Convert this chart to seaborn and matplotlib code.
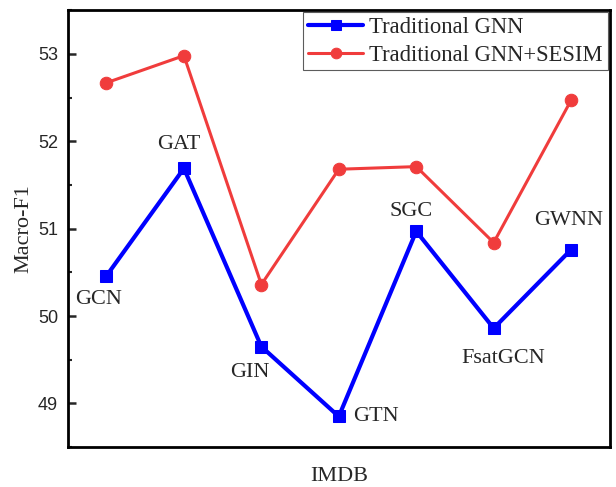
import numpy as np
import pandas as pd
import matplotlib
matplotlib.use("Agg")
import matplotlib.pyplot as plt
import seaborn as sns
from matplotlib.ticker import MultipleLocator

# Datos (IMDB, Macro-F1)
modelos = ["GCN", "GAT", "GIN", "GTN", "SGC", "FsatGCN", "GWNN"]
gnn_tradicional = [50.46, 51.69, 49.65, 48.85, 50.97, 49.86, 50.76]
gnn_sesim = [52.67, 52.98, 50.36, 51.68, 51.71, 50.84, 52.47]

posiciones = np.arange(1, len(modelos) + 1)

df = pd.DataFrame({
    "pos": np.concatenate([posiciones, posiciones]),
    "valor": gnn_tradicional + gnn_sesim,
    "serie": ["Traditional GNN"] * len(modelos) + ["Traditional GNN+SESIM"] * len(modelos),
})

sns.set_style("white")
plt.rcParams["font.family"] = ["Liberation Serif", "DejaVu Serif"]

fig = plt.figure(figsize=(6.16, 4.87), dpi=100)
ax = fig.add_axes([0.110, 0.082, 0.880, 0.897])

sns.lineplot(data=df[df["serie"] == "Traditional GNN"], x="pos", y="valor",
             color="#0000FF", marker="s", markersize=8, linewidth=3,
             markeredgecolor="#0000FF", label="Traditional GNN", ax=ax)
sns.lineplot(data=df[df["serie"] == "Traditional GNN+SESIM"], x="pos", y="valor",
             color="#F03C3C", marker="o", markersize=9, linewidth=2.2,
             markeredgecolor="#F03C3C", label="Traditional GNN+SESIM", ax=ax)

# Etiquetas de cada modelo (desplazamientos en puntos)
desplazamientos = {
    "GCN": (-6, -17, "center"),
    "GAT": (-4, 17, "center"),
    "GIN": (-8, -19, "center"),
    "GTN": (10, 0, "left"),
    "SGC": (-4, 14, "center"),
    "FsatGCN": (7, -22, "center"),
    "GWNN": (-2, 21, "center"),
}
for i, nombre in enumerate(modelos):
    dx, dy, ha = desplazamientos[nombre]
    ax.annotate(nombre, (posiciones[i], gnn_tradicional[i]), xytext=(dx, dy),
                textcoords="offset points", ha=ha, va="center", fontsize=16)

ax.set_xlim(0.5, 7.5)
ax.set_ylim(48.5, 53.5)
ax.set_xticks([])
ax.yaxis.set_major_locator(MultipleLocator(1))
ax.yaxis.set_minor_locator(MultipleLocator(0.5))
ax.tick_params(axis="y", which="major", direction="in", length=6, width=1.8,
               left=True, pad=7)
ax.tick_params(axis="y", which="minor", direction="in", length=3, width=1.5, left=True)
for etiqueta in ax.get_yticklabels():
    etiqueta.set_family("Liberation Sans")
    etiqueta.set_fontsize(13)

for lado in ax.spines.values():
    lado.set_linewidth(2)
    lado.set_color("black")

ax.set_xlabel("IMDB", fontsize=16, labelpad=14)
ax.set_ylabel("Macro-F1", fontsize=16, labelpad=3)

ley = ax.legend(loc="upper right", fontsize=16.3, frameon=True, fancybox=False,
                borderaxespad=0.1, handlelength=2.45, handletextpad=0.27,
                borderpad=0.2, labelspacing=0.3, markerscale=0.85)
ley.get_frame().set_edgecolor("#333333")
ley.get_frame().set_linewidth(0.8)

fig.savefig("out.png", dpi=100)
